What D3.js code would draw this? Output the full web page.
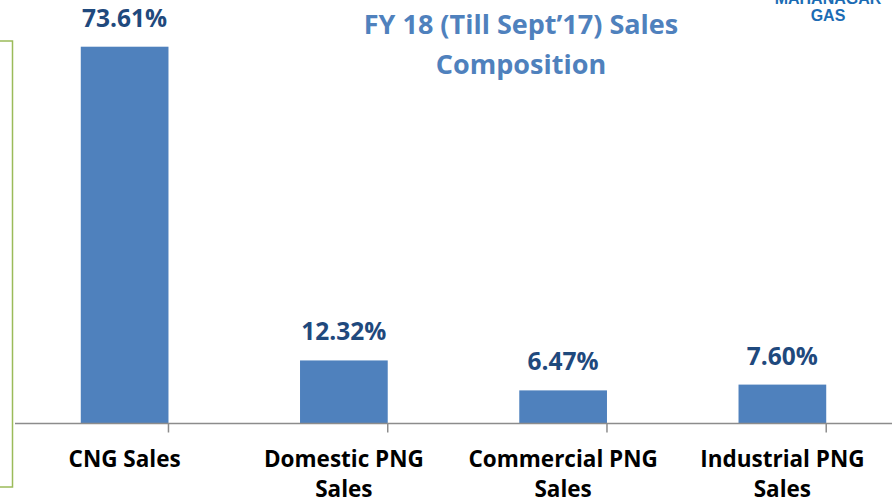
<!DOCTYPE html>
<html>
<head>
<meta charset="utf-8">
<script src="https://cdn.jsdelivr.net/npm/d3@7"></script>
<style>
  body { margin: 0; background: #fff; }
  svg { display: block; font-family: "Open Sans", Lato, sans-serif; }
</style>
</head>
<body>
<script>
var categories = ['CNG Sales', 'Domestic PNG Sales', 'Commercial PNG Sales', 'Industrial PNG Sales']
var shares = [73.61, 12.32, 6.47, 7.60]
var valueLabels = ['73.61%', '12.32%', '6.47%', '7.60%']
var titleLines = ['FY 18 (Till Sept\u201917) Sales', 'Composition']
var logoLines = ['MAHANAGAR', 'GAS']

var width = 892
var height = 503
var baseY = 423.5

var svg = d3.select('body').append('svg').attr('width', width).attr('height', height)

// green frame on the left edge of the slide
svg.append('rect')
  .attr('x', -20).attr('y', 41)
  .attr('width', 32.5).attr('height', 446)
  .attr('fill', 'none').attr('stroke', '#9bbb59').attr('stroke-width', 1.5)

var x = d3.scaleBand()
  .domain(categories)
  .range([15, 892])
  .paddingInner(0.6)
  .paddingOuter(0.3)

var y = d3.scaleLinear()
  .domain([0, 80])
  .range([baseY, 14])

svg.selectAll('rect.bar')
  .data(shares)
  .join('rect')
  .attr('class', 'bar')
  .attr('x', (d, i) => x(categories[i]))
  .attr('width', x.bandwidth())
  .attr('y', d => y(d))
  .attr('height', d => baseY - y(d))
  .attr('fill', '#4f81bd')

svg.selectAll('text.val')
  .data(shares)
  .join('text')
  .attr('class', 'val')
  .attr('x', (d, i) => x(categories[i]) + x.bandwidth() / 2)
  .attr('y', d => y(d) - 20)
  .attr('text-anchor', 'middle')
  .attr('font-size', 24.5)
  .attr('font-weight', 'bold')
  .attr('fill', '#1f497d')
  .text((d, i) => valueLabels[i])

// axis line with ticks between categories (excel style)
var step = x.step()
var edges = d3.range(categories.length + 1).map(i => x(categories[0]) - x.paddingOuter() * step - x.paddingInner() * step / 2 + i * step)
var axis = svg.append('g').attr('class', 'axis x')
axis.append('line')
  .attr('x1', 15).attr('x2', width)
  .attr('y1', baseY).attr('y2', baseY)
  .attr('stroke', '#8c8c8c').attr('stroke-width', 1.5)
axis.selectAll('line.tick')
  .data(edges)
  .join('line')
  .attr('class', 'tick')
  .attr('x1', d => d).attr('x2', d => d)
  .attr('y1', baseY).attr('y2', baseY + 9)
  .attr('stroke', '#8c8c8c').attr('stroke-width', 1.5)

var catText = axis.selectAll('text.cat')
  .data(categories)
  .join('text')
  .attr('class', 'cat')
  .attr('x', d => x(d) + x.bandwidth() / 2)
  .attr('y', 467)
  .attr('text-anchor', 'middle')
  .attr('font-size', 22.5)
  .attr('font-weight', 'bold')
  .attr('fill', '#000')

// wrap long category names onto a second line
catText.each(function (d) {
  var t = d3.select(this)
  var words = d.split(' ')
  var line = []
  var tspan = t.append('tspan').attr('x', t.attr('x')).attr('dy', 0)
  words.forEach(w => {
    line.push(w)
    tspan.text(line.join(' '))
    if (tspan.node().getComputedTextLength() > 200 && line.length > 1) {
      line.pop()
      tspan.text(line.join(' '))
      line = [w]
      tspan = t.append('tspan').attr('x', t.attr('x')).attr('dy', 30).text(w)
    }
  })
})

svg.append('g').selectAll('text')
  .data(titleLines)
  .join('text')
  .attr('x', 521)
  .attr('y', (d, i) => 34 + i * 40)
  .attr('text-anchor', 'middle')
  .attr('font-size', 27)
  .attr('font-weight', 'bold')
  .attr('fill', '#4f81bd')
  .text(d => d)

svg.append('g').selectAll('text')
  .data(logoLines)
  .join('text')
  .attr('x', 828)
  .attr('y', (d, i) => 4 + i * 16.5)
  .attr('text-anchor', 'middle')
  .attr('font-family', '"Liberation Sans", Arial, sans-serif')
  .attr('font-size', 16)
  .attr('font-weight', 'bold')
  .attr('fill', '#1b6cb4')
  .text(d => d)
</script>
</body>
</html>
